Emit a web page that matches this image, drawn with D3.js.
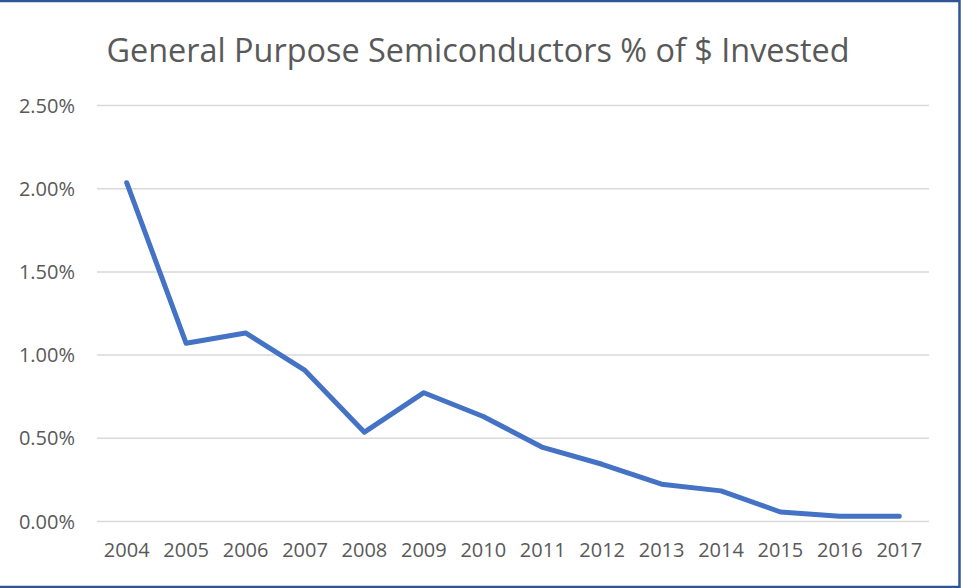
<!DOCTYPE html>
<html>
<head>
<meta charset="utf-8">
<script src="https://cdn.jsdelivr.net/npm/d3@7"></script>
<style>
  body { margin: 0; background: #fff; }
  svg { display: block; }
  svg text { font-family: "Open Sans", sans-serif; }
</style>
</head>
<body>
<div id="chart"></div>
<script>
// data
var years = ["2004", "2005", "2006", "2007", "2008", "2009", "2010",
             "2011", "2012", "2013", "2014", "2015", "2016", "2017"];
var pctInvested = [2.033, 1.068, 1.130, 0.905, 0.534, 0.771, 0.628,
                   0.442, 0.341, 0.221, 0.181, 0.054, 0.028, 0.028];
var yTicks = [0, 0.5, 1.0, 1.5, 2.0, 2.5];
var title = "General Purpose Semiconductors % of $ Invested";

var W = 963, H = 588;
var margin = {top: 105, right: 34, bottom: 67, left: 97};
var width = W - margin.left - margin.right;
var height = H - margin.top - margin.bottom;

var svg = d3.select("#chart")
  .append("svg")
    .attr("width", W)
    .attr("height", H);

// outer frame (no left side visible in the reference)
svg.append("rect")
  .attr("x", -4)
  .attr("y", 1)
  .attr("width", 963.5)
  .attr("height", 586)
  .attr("fill", "none")
  .attr("stroke", "#2F5597")
  .attr("stroke-width", 2.5);

svg.append("text")
  .attr("x", 478)
  .attr("y", 62)
  .attr("text-anchor", "middle")
  .attr("fill", "#595959")
  .style("font-size", "32.4px")
  .text(title);

var g = svg.append("g")
  .attr("transform", "translate(" + margin.left + "," + margin.top + ")");

var x = d3.scaleBand().domain(years).range([0, width]);
var y = d3.scaleLinear().domain([0, 2.5]).range([height, 0]);

// gridlines + y labels
var yAxis = g.append("g")
  .call(d3.axisLeft(y).tickValues(yTicks).tickSize(-width).tickPadding(22)
    .tickFormat(function(d) { return d.toFixed(2) + "%"; }));
yAxis.attr("font-family", null).attr("font-size", null);
yAxis.select(".domain").remove();
yAxis.selectAll("line").attr("stroke", "#D9D9D9").attr("stroke-width", 1.5);
yAxis.selectAll("text").attr("fill", "#595959").style("font-size", "20px")
  .attr("dy", "0.35em");

// x labels
var xAxis = g.append("g")
  .attr("transform", "translate(0," + height + ")")
  .call(d3.axisBottom(x).tickSize(0).tickPadding(22));
xAxis.attr("font-family", null).attr("font-size", null);
xAxis.select(".domain").remove();
xAxis.selectAll("text").attr("fill", "#595959").style("font-size", "20px");

var line = d3.line()
  .x(function(d, i) { return x(years[i]) + x.bandwidth() / 2; })
  .y(function(d) { return y(d); });

g.append("path")
  .datum(pctInvested)
  .attr("fill", "none")
  .attr("stroke", "#4472C4")
  .attr("stroke-width", 5)
  .attr("stroke-linejoin", "round")
  .attr("stroke-linecap", "round")
  .attr("d", line);
</script>
</body>
</html>
